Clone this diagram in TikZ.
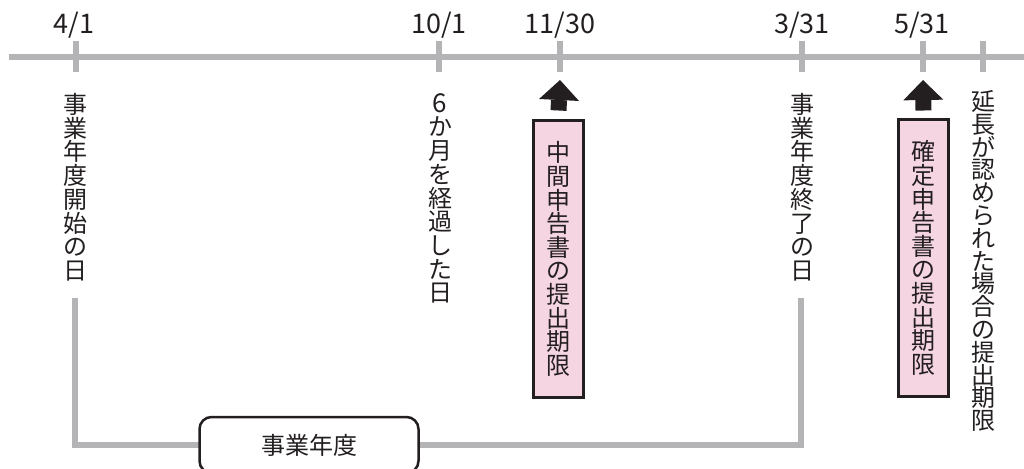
\documentclass[tikz,border=0pt]{standalone}
\usepackage{fontspec}
\setmainfont{Noto Sans CJK JP}
\usetikzlibrary{arrows.meta,calc}
\definecolor{axisgray}{HTML}{B4B4B7}
\definecolor{ink}{HTML}{231F20}
\definecolor{pinkfill}{HTML}{F6D5E3}
\begin{document}
\begin{tikzpicture}[x=0.5pt,y=-0.5pt,
  grayline/.style={draw=axisgray,line width=3pt},
  datelbl/.style={anchor=base,inner sep=0pt,text=ink,font=\fontsize{13.5}{14}\selectfont},
  vtext/.style={anchor=north,inner sep=0pt,align=center,text=ink,font=\fontsize{12}{11.85}\selectfont},
  deadline/.style={draw=ink,line width=1.5pt,fill=pinkfill,minimum width=25pt,minimum height=138.5pt,inner sep=0pt,align=center,text=ink,font=\fontsize{12}{11.8}\selectfont},
  blockarrow/.style={draw=ink,line width=8pt,-{Triangle[width=20pt,length=10pt,line width=0pt]}},
  yearbox/.style={draw=ink,line width=1.25pt,rounded corners=6pt,fill=white,minimum width=109.5pt,minimum height=28pt,inner sep=0pt,text=ink,font=\fontsize{12}{12}\selectfont}]
\useasboundingbox (0,0) rectangle (1024,468);
\clip (0,0) rectangle (1024,468);
% axis
\coordinate (axL) at (9,57);
\coordinate (axR) at (1024,57);
\draw[grayline] (axL) -- (axR);
% ticks
\foreach \n/\x in {1/76,2/439,3/560,4/802,5/923,6/983}{
  \coordinate (tt\n) at (\x,41);
  \coordinate (tb\n) at (\x,72);
  \draw[grayline] (tt\n) -- (tb\n);
}
% date labels
\node[datelbl] (d1) at (74,33) {4/1};
\node[datelbl] (d2) at (439,33) {10/1};
\node[datelbl] (d3) at (560,33) {11/30};
\node[datelbl] (d4) at (802,33) {3/31};
\node[datelbl] (d5) at (922,33) {5/31};
% vertical texts
\node[vtext] (c1) at (75,93) {事\\業\\年\\度\\開\\始\\の\\日};
\node[vtext] (c2) at (440,93) {\fontsize{13}{11.85}\selectfont 6\\か\\月\\を\\経\\過\\し\\た\\日};
\node[vtext] (c3) at (802,93) {事\\業\\年\\度\\終\\了\\の\\日};
\node[vtext,font=\fontsize{12}{11.4}\selectfont] (c4) at (983,90) {延\\長\\が\\認\\め\\ら\\れ\\た\\場\\合\\の\\提\\出\\期\\限};
% deadline boxes
\node[deadline] (b1) at (558.5,259) {中\\間\\申\\告\\書\\の\\提\\出\\期\\限};
\node[deadline] (b2) at (923.5,258) {確\\定\\申\\告\\書\\の\\提\\出\\期\\限};
% block arrows
\draw[blockarrow] ($(b1.north)+(0,-8.5)$) -- ($(tb3)+(0,8)$);
\draw[blockarrow] ($(b2.north)+(0,-7.5)$) -- ($(tb5)+(0,8)$);
% fiscal-year bracket
\coordinate (bl) at (75,298);
\coordinate (br) at (801,298);
\coordinate (bb) at (801,445);
\draw[grayline] (bl) |- (bb) -- (br);
\node[yearbox] (fy) at (309,445) {事業年度};
\end{tikzpicture}
\end{document}
